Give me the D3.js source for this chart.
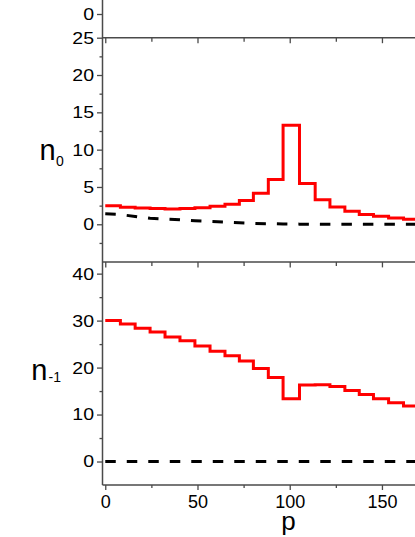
<!DOCTYPE html>
<html>
<head>
<meta charset="utf-8">
<script src="https://cdn.jsdelivr.net/npm/d3@7"></script>
<style>
  body { margin: 0; background: #fff; }
  svg { display: block; }
  text { font-family: "Liberation Sans", Arial, sans-serif; fill: #000; }
</style>
</head>
<body>
<svg id="chart" width="415" height="537"></svg>
<script>
// p where each plateau of the staircase starts
const stepP = [0, 8.2, 16.2, 24.3, 32.4, 40.5, 48.6, 56.8, 64.9, 72.7, 80.3, 88.4, 96.4, 105.3, 113.8, 121.8, 129.9, 137.7, 145.4, 153.6, 161.7, 170];

// n_0 panel
const n0Red   = [2.5, 2.28, 2.19, 2.1, 2.05, 2.1, 2.23, 2.4, 2.7, 3.2, 4.15, 6.0, 13.27, 5.45, 3.3, 2.32, 1.76, 1.32, 1.07, 0.85, 0.67, 0.67];
const n0Black = [1.4, 1.3, 1.05, 0.8, 0.7, 0.6, 0.47, 0.38, 0.28, 0.19, 0.12, 0.08, 0.04, 0.02, 0.01, 0, 0, 0, 0, 0, 0, 0];

// n_-1 panel
const nm1Red   = [30.0, 29.3, 28.4, 27.6, 26.5, 25.7, 24.6, 23.5, 22.5, 21.4, 19.8, 17.9, 13.35, 16.3, 16.35, 15.95, 15.1, 14.26, 13.35, 12.5, 11.8, 11.8];
const nm1BlackP = [0, 170];
const nm1Black  = [0, 0];

// ticks
const xMajor = [0, 50, 100, 150];
const xMinor = [25, 75, 125];
const topMajor = [0];
const midMajor = [0, 5, 10, 15, 20, 25];
const midMinor = [-2.5, 2.5, 7.5, 12.5, 17.5, 22.5];
const botMajor = [0, 10, 20, 30, 40];
const botMinor = [5, 15, 25, 35];

const svg = d3.select('#chart');
const axisX = 102.5;

const x = d3.scaleLinear().domain([-1.5, 214]).range([axisX, 500]);
const yTop = d3.scaleLinear().domain([-10, 10]).range([38, -10]);
const yMid = d3.scaleLinear().domain([-5, 25]).range([261.6, 37.7]);
const yBot = d3.scaleLinear().domain([-5, 42.5]).range([485, 261.9]);

const axisColor = '#4a4a4a';

function styleAxis(g) {
    g.select('.domain').remove();
    g.selectAll('.tick line').attr('stroke', axisColor).attr('stroke-width', 1.3);
}

// left axis ticks + labels for one panel
function leftAxis(y, major, minor) {
    const g = svg.append('g').attr('transform', `translate(${axisX},0)`);
    g.call(d3.axisLeft(y).tickValues(major).tickSize(5.5).tickPadding(3)).call(styleAxis);
    g.selectAll('.tick text')
        .attr('font-size', 17)
        .attr('font-family', null)
        .attr('x', null)
        .attr('transform', 'translate(-8.5,0) scale(1.15,1)');
    if (minor.length) {
        svg.append('g').attr('transform', `translate(${axisX},0)`)
            .call(d3.axisLeft(y).tickValues(minor).tickSize(3).tickFormat(''))
            .call(styleAxis);
    }
}

leftAxis(yTop, topMajor, []);
leftAxis(yMid, midMajor, midMinor);
leftAxis(yBot, botMajor, botMinor);

// inward ticks on the top edge of each lower panel
[yMid.range()[1], yBot.range()[1]].forEach(yy => {
    svg.append('g').attr('transform', `translate(0,${yy})`)
        .call(d3.axisTop(x).tickValues(xMajor).tickSize(-5.5).tickFormat(''))
        .call(styleAxis);
    svg.append('g').attr('transform', `translate(0,${yy})`)
        .call(d3.axisTop(x).tickValues(xMinor).tickSize(-4).tickFormat(''))
        .call(styleAxis);
});

// bottom x axis
const xg = svg.append('g').attr('transform', `translate(0,${yBot.range()[0]})`);
xg.call(d3.axisBottom(x).tickValues(xMajor).tickSize(5).tickPadding(5)).call(styleAxis);
xg.selectAll('.tick text').attr('font-size', 18).attr('font-family', null);
svg.append('g').attr('transform', `translate(0,${yBot.range()[0]})`)
    .call(d3.axisBottom(x).tickValues(xMinor).tickSize(3).tickFormat(''))
    .call(styleAxis);

// frame lines
svg.append('line').attr('x1', axisX).attr('x2', axisX).attr('y1', 0).attr('y2', yBot.range()[0])
    .attr('stroke', axisColor).attr('stroke-width', 1.5);
[yMid.range()[1], yBot.range()[1], yBot.range()[0]].forEach(yy => {
    svg.append('line').attr('x1', axisX).attr('x2', 415).attr('y1', yy).attr('y2', yy)
        .attr('stroke', axisColor).attr('stroke-width', 1.5);
});

// series
function drawSeries(px, vals, y, color, dashed, curve) {
    const line = d3.line()
        .x((d, i) => x(px[i]))
        .y(d => y(d))
        .curve(curve);
    svg.append('path')
        .datum(vals)
        .attr('fill', 'none')
        .attr('stroke', color)
        .attr('stroke-width', 3)
        .attr('stroke-dasharray', dashed ? '10.5,11' : null)
        .attr('d', line);
}

drawSeries(stepP, n0Black, yMid, '#000', true, d3.curveLinear);
drawSeries(stepP, n0Red, yMid, '#ff0000', false, d3.curveStepAfter);
drawSeries(nm1BlackP, nm1Black, yBot, '#000', true, d3.curveLinear);
drawSeries(stepP, nm1Red, yBot, '#ff0000', false, d3.curveStepAfter);

// axis titles
svg.append('text').attr('x', 39.5).attr('y', 159.7).attr('font-size', 29).text('n');
svg.append('text').attr('x', 56).attr('y', 166.3).attr('font-size', 14).text('0');
svg.append('text').attr('x', 31.3).attr('y', 380).attr('font-size', 29).text('n');
svg.append('text').attr('x', 48.5).attr('y', 382).attr('font-size', 14).text('-1');
svg.append('text').attr('x', 288.5).attr('y', 530).attr('font-size', 26)
    .attr('text-anchor', 'middle').text('p');
</script>
</body>
</html>
